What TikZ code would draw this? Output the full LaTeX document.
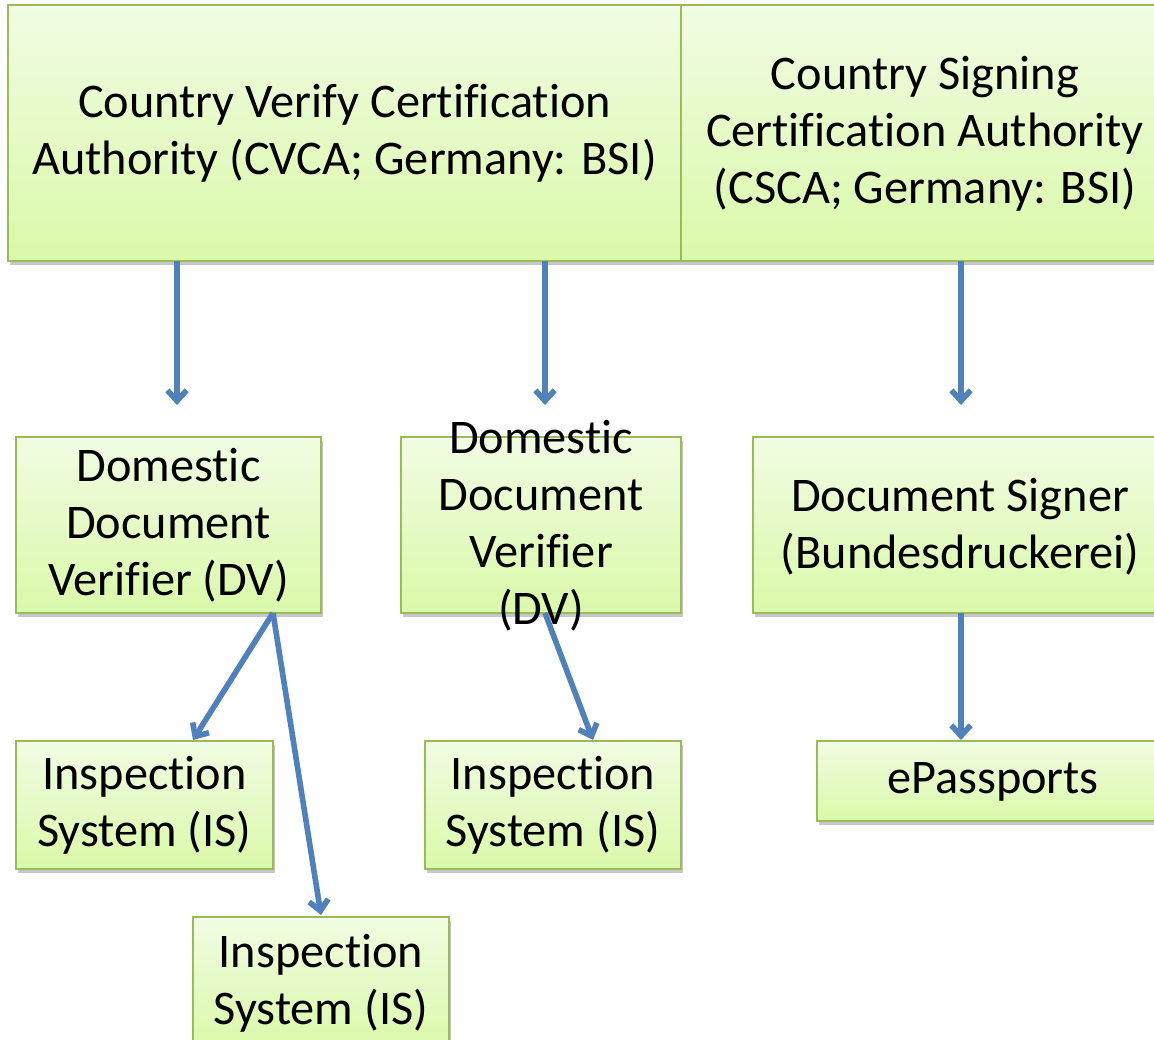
\documentclass[tikz,border=0pt]{standalone}
\usepackage{fontspec}
\setmainfont[Ligatures=NoCommon]{Carlito}
\usetikzlibrary{arrows.meta,shadows,positioning}
\definecolor{boxborder}{HTML}{9BBB59}
\definecolor{boxtop}{HTML}{F1FCE3}
\definecolor{boxbottom}{HTML}{DAF9A9}
\definecolor{arrowblue}{HTML}{4F81BD}
\tikzset{
  txt/.style={font=\fontsize{27.5}{32.4}\selectfont},
  box/.style={draw=boxborder, line width=1.7pt, top color=boxtop, bottom color=boxbottom,
    drop shadow={shadow xshift=1.2pt, shadow yshift=-2.3pt, fill=black!22, opacity=1},
    inner sep=0pt, outer sep=0pt, anchor=north west, align=center, txt},
  lbl/.style={align=center, txt, inner sep=0pt},
  conn/.style={draw=arrowblue, line width=3.2pt,
    -{Straight Barb[length=6pt, width=11pt]}},
}
\begin{document}
\begin{tikzpicture}[x=0.02cm, y=-0.02cm]
\useasboundingbox (0,0) rectangle (1154,1040);
\clip (0,0) rectangle (1154,1040);
% top row
\node[box, minimum width=673*0.02cm, minimum height=256*0.02cm] (cvca) at (8,5)
  {Country Verify Certification\\Authority (CVCA; Germany: BSI)};
\node[box, minimum width=488*0.02cm, minimum height=256*0.02cm] (csca) at (681,5) {};
\node[lbl] (cscatext) at (925,134) {Country Signing\\Certification Authority\\(CSCA; Germany: BSI)};
% middle row
\node[box, minimum width=305*0.02cm, minimum height=176*0.02cm] (dv1) at (16,437)
  {Domestic\\Document\\Verifier (DV)};
\node[box, minimum width=280*0.02cm, minimum height=176*0.02cm] (dv2) at (401,437) {};
\node[lbl] (dv2text) at (541,526) {Domestic\\Document\\Verifier\\(DV)};
\node[box, minimum width=416*0.02cm, minimum height=176*0.02cm] (ds) at (753,437) {};
\node[lbl] (dstext) at (960,527) {Document Signer\\(Bundesdruckerei)};
% bottom rows
\node[box, minimum width=257*0.02cm, minimum height=128*0.02cm] (is1) at (16,741)
  {Inspection\\System (IS)};
\node[box, minimum width=256*0.02cm, minimum height=128*0.02cm] (is2) at (425,741)
  {Inspection\\System (IS)};
\node[box, minimum width=352*0.02cm, minimum height=80*0.02cm] (epass) at (817,741) {};
\node[lbl] (epasstext) at (993,782) {ePassports};
\node[box, minimum width=256*0.02cm, minimum height=132*0.02cm] (is3) at (193,917) {};
\node[lbl] (is3text) at (321,983) {Inspection\\System (IS)};
% arrow ends
\coordinate (e1) at (177,405);
\coordinate (e2) at (545,405);
\coordinate (e3) at (961,405);
\coordinate (s4) at (273,613);
\coordinate (e4) at (193,740);
\coordinate (e5) at (321,915);
\coordinate (s6) at (545,613);
\coordinate (e6) at (593,740);
\coordinate (s7) at (961,613);
\coordinate (e7) at (961,740);
% connectors
\draw[conn] (cvca.south -| e1) -- (e1);
\draw[conn] (cvca.south -| e2) -- (e2);
\draw[conn] (csca.south -| e3) -- (e3);
\draw[conn] (s4) -- (e4);
\draw[conn] (s4) -- (e5);
\draw[conn] (s6) -- (e6);
\draw[conn] (s7) -- (e7);
\end{tikzpicture}
\end{document}
